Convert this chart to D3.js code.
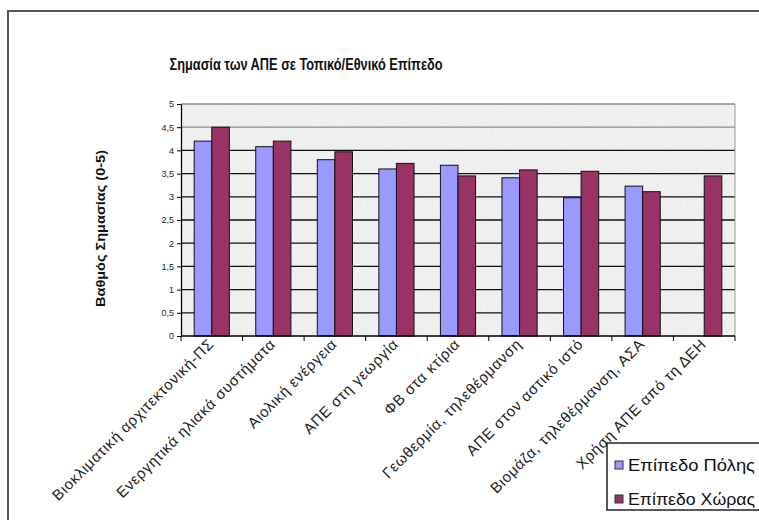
<!DOCTYPE html>
<html><head><meta charset="utf-8">
<script src="https://cdn.jsdelivr.net/npm/d3@7"></script>
<style>body{margin:0;background:#fff}svg{display:block;font-family:"Liberation Sans",Arial,sans-serif}</style>
</head><body><svg id="c" width="759" height="520"></svg>
<script>
const categories = ["Βιοκλιματική αρχιτεκτονική-ΠΣ","Ενεργητικά ηλιακά συστήματα","Αιολική ενέργεια","ΑΠΕ στη γεωργία","ΦΒ στα κτίρια","Γεωθερμία, τηλεθέρμανση","ΑΠΕ  στον αστικό ιστό","Βιομάζα, τηλεθέρμανση, ΑΣΑ","Χρήση ΑΠΕ από τη ΔΕΗ"];
const seriesNames = ["Επίπεδο Πόλης","Επίπεδο Χώρας"];
const cityValues = [4.2,4.08,3.8,3.6,3.68,3.41,2.98,3.23,null];
const countryValues = [4.5,4.2,3.97,3.72,3.45,3.58,3.55,3.11,3.45];
const yTicks = [0,0.5,1,1.5,2,2.5,3,3.5,4,4.5,5];
const colors = ["#9999ff","#993366"];
const titleText = "Σημασία των ΑΠΕ σε Τοπικό/Εθνικό Επίπεδο";
const yLabel = "Βαθμός Σημασίας (0-5)";

const svg = d3.select("#c");
const L=181,R=735,T=104,B=336;
const x = d3.scaleBand().domain(categories).range([L,R]).padding(0);
const x1 = d3.scaleBand().domain(seriesNames).range([0,x.bandwidth()]).paddingInner(0).paddingOuter(0.75);
const y = d3.scaleLinear().domain([0,5]).range([B,T]);
const fmt = v => String(v).replace(".",",");

// chart frame
svg.append("path").attr("d","M8,520V11H759").attr("fill","none").attr("stroke","#555").attr("stroke-width",2);

// plot background with granite texture
const defs = svg.append("defs");
const f = defs.append("filter").attr("id","gran").attr("x",0).attr("y",0).attr("width",1).attr("height",1);
f.append("feTurbulence").attr("type","fractalNoise").attr("baseFrequency",0.8).attr("numOctaves",2).attr("seed",3).attr("result","n");
f.append("feColorMatrix").attr("in","n").attr("type","matrix")
 .attr("values","0 0 0 0 0.55  0 0 0 0 0.55  0 0 0 0 0.55  0 0 0 -2.2 1.25").attr("result","m");
f.append("feComposite").attr("in","m").attr("in2","SourceGraphic").attr("operator","in");
svg.append("rect").attr("x",L).attr("y",T).attr("width",R-L).attr("height",B-T).attr("fill","#f2f2f2");
svg.append("rect").attr("x",L).attr("y",T).attr("width",R-L).attr("height",B-T).attr("fill","#000").attr("filter","url(#gran)").attr("opacity",0.3);

// gridlines
svg.append("g").selectAll("line").data(yTicks.filter(v=>v>0)).join("line")
 .attr("x1",L).attr("x2",R).attr("y1",d=>y(d)).attr("y2",d=>y(d))
 .attr("stroke",d=>d>=4.5?"#8c8c8c":"#111").attr("stroke-width",1.3);
svg.append("line").attr("x1",R).attr("x2",R).attr("y1",T).attr("y2",B).attr("stroke","#999");

// bars
const rows = categories.map((c,i)=>({c,vals:[cityValues[i],countryValues[i]]}));
const g = svg.append("g").selectAll("g").data(rows).join("g").attr("transform",d=>`translate(${x(d.c)},0)`);
g.selectAll("rect").data(d=>d.vals.map((v,k)=>({v,k})).filter(e=>e.v!=null)).join("rect")
 .attr("x",e=>x1(seriesNames[e.k])).attr("width",x1.bandwidth())
 .attr("y",e=>y(e.v)).attr("height",e=>B-y(e.v))
 .attr("fill",e=>colors[e.k]).attr("stroke","#111").attr("stroke-width",1);

// y axis
const ya = svg.append("g").attr("transform",`translate(${L},0)`)
 .call(d3.axisLeft(y).tickValues(yTicks).tickFormat(fmt).tickSize(4).tickSizeOuter(0));
ya.select(".domain").attr("stroke","#000").attr("stroke-width",1.3);
ya.selectAll("text").attr("font-size",9).attr("fill","#222").attr("font-family","Liberation Sans, Arial");

// x axis
const xa = svg.append("g").attr("transform",`translate(0,${B})`);
xa.append("line").attr("x1",L).attr("x2",R).attr("stroke","#000").attr("stroke-width",1.3);
xa.selectAll("line.t").data(d3.range(categories.length+1)).join("line").attr("class","t")
 .attr("x1",i=>L+i*x.step()).attr("x2",i=>L+i*x.step()).attr("y1",0).attr("y2",5).attr("stroke","#000");
xa.selectAll("text").data(categories).join("text")
 .attr("transform",d=>`translate(${x(d)+x.bandwidth()/2+3},${9}) rotate(-45)`)
 .attr("text-anchor","end").attr("font-size",15).attr("letter-spacing",0.7).attr("fill","#222").text(d=>d);

// title
svg.append("text").attr("x",306).attr("y",70).attr("text-anchor","middle").attr("font-weight","bold")
 .attr("font-size",16).attr("fill","#111").attr("textLength",273).attr("lengthAdjust","spacingAndGlyphs").text(titleText);
// y label
svg.append("text").attr("transform","translate(105,228.5) rotate(-90)").attr("text-anchor","middle")
 .attr("font-weight","bold").attr("font-size",13).attr("fill","#111")
 .attr("textLength",157).attr("lengthAdjust","spacingAndGlyphs").text(yLabel);

// legend
const lg = svg.append("g");
lg.append("rect").attr("x",607).attr("y",443).attr("width",160).attr("height",67).attr("fill","#fff").attr("stroke","#000").attr("stroke-width",1.3);
const li = lg.selectAll("g").data(seriesNames).join("g").attr("transform",(d,i)=>`translate(615,${461+i*34})`);
li.append("rect").attr("width",8).attr("height",8).attr("fill",(d,i)=>colors[i]).attr("stroke","#333");
li.append("text").attr("x",13).attr("y",10).attr("font-size",16).attr("fill","#111")
 .attr("textLength",127).attr("lengthAdjust","spacingAndGlyphs").text(d=>d);
</script></body></html>
